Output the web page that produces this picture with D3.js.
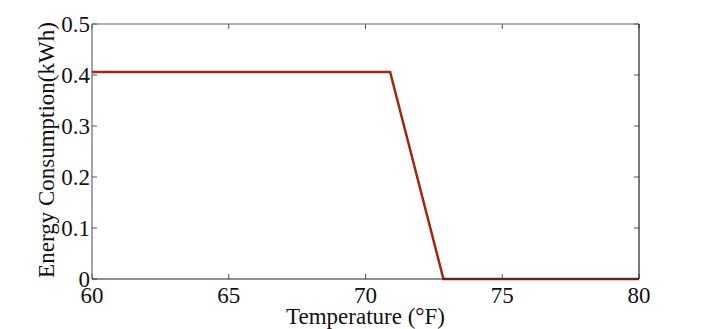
<!DOCTYPE html>
<meta charset="utf-8">
<title>Energy vs temperature</title>
<style>
  body { margin: 0; background: #fff; }
  text { font-family: "Liberation Serif", "Times New Roman", serif; fill: #111; }
</style>
<body>
<script src="https://d3js.org/d3.v7.min.js"></script>
<script>

var width = 706;
var height = 329;

// data
var temps  = [60, 70.9, 72.85, 80];
var energy = [0.406, 0.406, 0, 0];
var xTicks = [60, 65, 70, 75, 80];
var yTicks = [0, 0.1, 0.2, 0.3, 0.4, 0.5];

var plotL = 92, plotR = 639, plotT = 24, plotB = 279;

var svg = d3.select("body")
      .append("svg")
      .attr("width", width)
      .attr("height", height);

var x = d3.scaleLinear().domain([60, 80]).range([plotL, plotR]);
var y = d3.scaleLinear().domain([0, 0.5]).range([plotB, plotT]);

// ticks pointing inward, on all four sides
var tickLen = 5;
svg.append("g").selectAll("line")
  .data(xTicks)
  .join("line")
  .attr("x1", function(d) { return x(d); })
  .attr("x2", function(d) { return x(d); })
  .attr("y1", plotB)
  .attr("y2", plotB - tickLen)
  .attr("stroke", "#555");

svg.append("g").selectAll("line")
  .data(xTicks)
  .join("line")
  .attr("x1", function(d) { return x(d); })
  .attr("x2", function(d) { return x(d); })
  .attr("y1", plotT)
  .attr("y2", plotT + tickLen)
  .attr("stroke", "#555");

svg.append("g").selectAll("line")
  .data(yTicks)
  .join("line")
  .attr("x1", plotL)
  .attr("x2", plotL + tickLen)
  .attr("y1", function(d) { return y(d); })
  .attr("y2", function(d) { return y(d); })
  .attr("stroke", "#555");

svg.append("g").selectAll("line")
  .data(yTicks)
  .join("line")
  .attr("x1", plotR)
  .attr("x2", plotR - tickLen)
  .attr("y1", function(d) { return y(d); })
  .attr("y2", function(d) { return y(d); })
  .attr("stroke", "#555");

// the data line
var line = d3.line()
  .x(function(d, i) { return x(temps[i]); })
  .y(function(d) { return y(d); });

svg.append("path")
  .datum(energy)
  .attr("d", line)
  .attr("fill", "none")
  .attr("stroke", "#a3260f")
  .attr("stroke-width", 2.5)
  .attr("stroke-linejoin", "miter");

// box
svg.append("line").attr("x1", plotL).attr("x2", plotR).attr("y1", plotT).attr("y2", plotT)
  .attr("stroke", "#666").attr("stroke-width", 1.2);
svg.append("line").attr("x1", plotL).attr("x2", plotL).attr("y1", plotT).attr("y2", plotB)
  .attr("stroke", "#666").attr("stroke-width", 1.2);
svg.append("line").attr("x1", plotL).attr("x2", plotR).attr("y1", plotB).attr("y2", plotB)
  .attr("stroke", "#222").attr("stroke-width", 1.2);
svg.append("line").attr("x1", plotR).attr("x2", plotR).attr("y1", plotT).attr("y2", plotB)
  .attr("stroke", "#222").attr("stroke-width", 1.2);

// tick labels
svg.append("g").selectAll("text")
  .data(xTicks)
  .join("text")
  .attr("x", function(d) { return x(d); })
  .attr("y", 303)
  .attr("text-anchor", "middle")
  .style("font-size", "23px")
  .text(function(d) { return d; });

svg.append("g").selectAll("text")
  .data(yTicks)
  .join("text")
  .attr("x", plotL - 2)
  .attr("y", function(d) { return y(d); })
  .attr("dy", ".33em")
  .attr("text-anchor", "end")
  .style("font-size", "23px")
  .text(function(d) { return d === 0 ? "0" : d3.format(".1f")(d); });

// axis titles
svg.append("text")
  .attr("x", (plotL + plotR) / 2)
  .attr("y", 324)
  .attr("text-anchor", "middle")
  .style("font-size", "23px")
  .text("Temperature (°F)");

svg.append("text")
  .attr("text-anchor", "middle")
  .attr("transform", "translate(54,150) rotate(-90)")
  .style("font-size", "23px")
  .text("Energy Consumption(kWh)");

</script>
</body>
